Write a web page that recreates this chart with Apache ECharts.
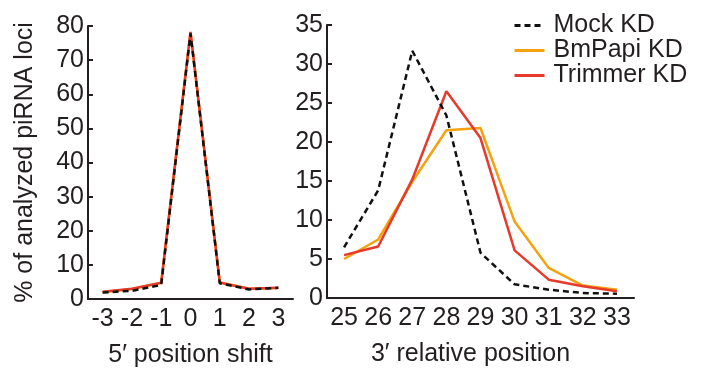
<!DOCTYPE html>
<html><head><meta charset="utf-8">
<script src="https://cdn.jsdelivr.net/npm/echarts@6/dist/echarts.min.js"></script>
<style>html,body{margin:0;padding:0;background:#fff}#c{width:710px;height:370px}</style>
</head><body><div id="c"></div>
<script>
const shiftCats = ['-3','-2','-1','0','1','2','3'];
const posCats = ['25','26','27','28','29','30','31','32','33'];
const seriesNames = ['Mock KD','BmPapi KD','Trimmer KD'];
const mockShift = [1.9, 2.4, 4.1, 77.8, 4.6, 2.8, 3.3];
const papiShift = [2.0, 2.9, 4.7, 78.2, 4.9, 3.0, 3.2];
const trimShift = [2.1, 3.0, 4.8, 78.3, 4.8, 3.0, 3.3];
const mockPos = [6.5, 13.8, 31.7, 23.4, 5.8, 1.75, 1.07, 0.64, 0.55];
const papiPos = [5.0, 7.5, 14.9, 21.5, 21.8, 9.8, 3.85, 1.6, 1.07];
const trimPos = [5.5, 6.6, 15.2, 26.5, 20.5, 6.1, 2.35, 1.5, 0.86];

const FONT = 'Liberation Sans, Arial, Helvetica, sans-serif';
const INK = '#231f20';
const C_MOCK = '#111111', C_PAPI = '#f5a20f', C_TRIM = '#e63a2a';

function xAxisCfg(idx, cats, name, pad){
  return {type:'category', gridIndex:idx, data:cats, boundaryGap:true,
    axisLine:{lineStyle:{color:INK,width:2}},
    axisTick:{alignWithLabel:true, inside:true, length:6, lineStyle:{color:INK,width:2}},
    axisLabel:{color:INK, fontSize:25, fontFamily:FONT, margin:8, interval:0},
    name:name, nameLocation:'middle', nameGap:44,
    nameTextStyle:{color:INK, fontSize:25, fontFamily:FONT, padding:pad}};
}
function yAxisCfg(idx, max, interval, name){
  const c = {type:'value', gridIndex:idx, min:0, max:max, interval:interval,
    splitLine:{show:false},
    axisLine:{show:true, lineStyle:{color:INK,width:2}},
    axisTick:{show:true, inside:true, length:5, lineStyle:{color:INK,width:2}},
    axisLabel:{color:INK, fontSize:25, fontFamily:FONT, margin:4}};
  if (name){ c.name = name; c.nameLocation='middle'; c.nameGap=50;
    c.nameTextStyle={color:INK, fontSize:25, fontFamily:FONT}; }
  return c;
}
function lineS(name, data, color, dashed, xi, yi, z){
  return {type:'line', name:name, data:data, xAxisIndex:xi, yAxisIndex:yi,
    symbol:'none', z:z, animation:false,
    lineStyle:{color:color, width:2.5, type: dashed ? [6,4] : 'solid'},
    itemStyle:{color:color}};
}
const chart = echarts.init(document.getElementById('c'));
chart.setOption({
  animation:false,
  grid:[{left:88, top:26, width:205, height:273, outerBoundsMode:'none', containLabel:false},
        {left:327, top:25, width:307, height:273, outerBoundsMode:'none', containLabel:false}],
  xAxis:[xAxisCfg(0, shiftCats, '5\u2032 position shift', [0,0,0,0]),
         xAxisCfg(1, posCats, '3\u2032 relative position', [0,20,0,0])],
  yAxis:[yAxisCfg(0, 80, 10, '% of analyzed piRNA loci'), yAxisCfg(1, 35, 5)],
  legend:{orient:'vertical', left:508, top:8, itemWidth:30, itemHeight:14, itemGap:0,
    data:seriesNames,
    itemStyle:{opacity:0, borderWidth:0},
    lineStyle:{width:3},
    textStyle:{color:INK, fontSize:25, fontFamily:FONT, lineHeight:25, padding:[0,0,0,4]}},
  series:[
    lineS(seriesNames[1], papiShift, C_PAPI, false, 0, 0, 2),
    lineS(seriesNames[2], trimShift, C_TRIM, false, 0, 0, 3),
    lineS(seriesNames[0], mockShift, C_MOCK, true, 0, 0, 4),
    lineS(seriesNames[0], mockPos, C_MOCK, true, 1, 1, 4),
    lineS(seriesNames[1], papiPos, C_PAPI, false, 1, 1, 2),
    lineS(seriesNames[2], trimPos, C_TRIM, false, 1, 1, 3)
  ]
});
</script></body></html>
